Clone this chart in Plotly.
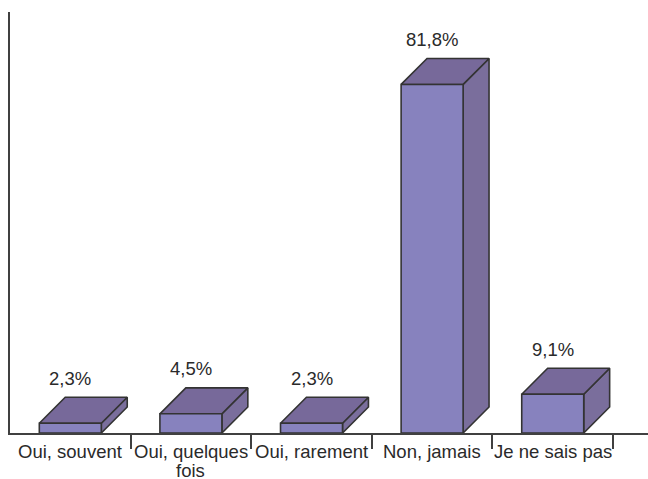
import plotly.graph_objects as go

# Survey answers and their shares (%)
categories = ["Oui, souvent", "Oui, quelques<br>fois", "Oui, rarement", "Non, jamais", "Je ne sais pas"]
values = [2.3, 4.5, 2.3, 81.8, 9.1]
value_labels = ["2,3%", "4,5%", "2,3%", "81,8%", "9,1%"]

FRONT = "#8782BE"
TOP = "#77699A"
SIDE = "#7A6E9C"
EDGE = "#333333"
TEXT = "#2a2a2a"
FONT = "Liberation Sans, Arial, sans-serif"

# geometry of the pseudo-3D boxes, in axis units
half_w = 0.257          # half width of the front face (category units)
depth_x = 0.215         # receding offset along x (category units)
depth_y = 6.1           # receding offset along y (value units)

y_max = 98.8
x_min, x_max = -0.5, 4.79

fig = go.Figure()

def poly(xs, ys, color):
    fig.add_trace(go.Scatter(
        x=xs + [xs[0]], y=ys + [ys[0]], mode="lines", fill="toself",
        fillcolor=color, line=dict(color=EDGE, width=1.6),
        hoverinfo="skip", showlegend=False, cliponaxis=False,
    ))

for i, v in enumerate(values):
    x0, x1 = i - half_w, i + half_w
    # side face
    poly([x1, x1 + depth_x, x1 + depth_x, x1], [0, depth_y, v + depth_y, v], SIDE)
    # top face
    poly([x0, x1, x1 + depth_x, x0 + depth_x], [v, v, v + depth_y, v + depth_y], TOP)
    # front face
    poly([x0, x1, x1, x0], [0, 0, v, v], FRONT)

annotations = []
for i, (v, lab) in enumerate(zip(values, value_labels)):
    annotations.append(dict(
        x=i, y=v + depth_y, xref="x", yref="y", text=lab, showarrow=False,
        yanchor="middle", yshift=19, font=dict(family=FONT, size=18.5, color=TEXT),
    ))

for i, cat in enumerate(categories):
    for k, line in enumerate(cat.split("<br>")):
        annotations.append(dict(
            x=i, y=0, xref="x", yref="y", text=line, showarrow=False,
            yanchor="middle", yshift=-18 - 19 * k,
            font=dict(family=FONT, size=18.5, color=TEXT),
        ))

fig.update_layout(
    width=648, height=479,
    margin=dict(l=10, r=0, t=12, b=46),
    paper_bgcolor="white", plot_bgcolor="white",
    showlegend=False,
    annotations=annotations,
    xaxis=dict(
        range=[x_min, x_max], showgrid=False, zeroline=False,
        showline=True, linecolor="#404040", linewidth=1.6,
        tickmode="array", tickvals=[0.5, 1.5, 2.5, 3.5, 4.5],
        ticks="outside", ticklen=14, tickwidth=1.6, tickcolor="#404040",
        showticklabels=False,
    ),
    yaxis=dict(
        range=[0, y_max], showgrid=False, zeroline=False,
        showline=True, linecolor="#404040", linewidth=2,
        ticks="", showticklabels=False,
    ),
)

fig.write_html("out.html")
